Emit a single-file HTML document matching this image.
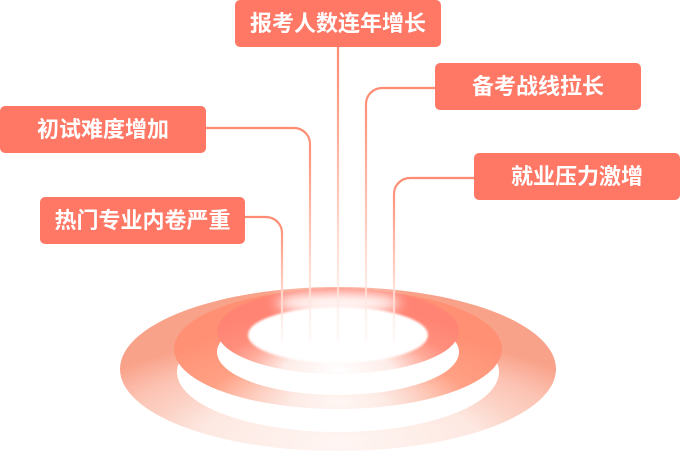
<!DOCTYPE html>
<html>
<head>
<meta charset="utf-8">
<style>
  html,body{margin:0;padding:0;background:#fff;}
  body{width:680px;height:452px;overflow:hidden;position:relative;}
  svg{position:absolute;left:0;top:0;}
  .box{position:absolute;height:47px;width:206px;background:#ff7866;border-radius:5px;
       color:#fff;font-family:"Liberation Sans","Noto Sans CJK SC",sans-serif;font-weight:bold;
       font-size:22px;line-height:47px;text-align:center;white-space:nowrap;}
</style>
</head>
<body>
<svg width="680" height="452" viewBox="0 0 680 452" xmlns="http://www.w3.org/2000/svg">
  <defs>
    <radialGradient id="gOuter" cx="0.5" cy="0.95" r="0.7" fx="0.5" fy="0.95">
      <stop offset="0" stop-color="#fff6f3"/>
      <stop offset="0.46" stop-color="#fde8e1"/>
      <stop offset="0.6" stop-color="#fcd4c8"/>
      <stop offset="0.77" stop-color="#fcc2b2"/>
      <stop offset="0.96" stop-color="#f9a28a"/>
      <stop offset="1" stop-color="#f9a28a"/>
    </radialGradient>
    <radialGradient id="gMid" cx="0.5" cy="0.95" r="0.7" fx="0.5" fy="0.95">
      <stop offset="0" stop-color="#fff7f4"/>
      <stop offset="0.2" stop-color="#fdebe5"/>
      <stop offset="0.36" stop-color="#fdd0c2"/>
      <stop offset="0.58" stop-color="#ffa084"/>
      <stop offset="0.95" stop-color="#ff9074"/>
      <stop offset="1" stop-color="#ff9074"/>
    </radialGradient>
    <radialGradient id="gInner" cx="0.5" cy="0.95" r="0.75" fx="0.5" fy="0.95">
      <stop offset="0" stop-color="#ffffff"/>
      <stop offset="0.3" stop-color="#fdece7"/>
      <stop offset="0.5" stop-color="#ffad9d"/>
      <stop offset="0.66" stop-color="#ff8e7c"/>
      <stop offset="0.93" stop-color="#ff8474"/>
      <stop offset="1" stop-color="#ff8474"/>
    </radialGradient>
    <filter id="blur6" x="-50%" y="-100%" width="200%" height="300%">
      <feGaussianBlur stdDeviation="6"/>
    </filter>
    <filter id="blur1" x="-10%" y="-20%" width="120%" height="140%">
      <feGaussianBlur stdDeviation="1"/>
    </filter>
    <linearGradient id="l0" gradientUnits="userSpaceOnUse" x1="0" y1="47" x2="0" y2="342">
      <stop offset="0" stop-color="#ff8b72"/>
      <stop offset="0.15" stop-color="#ff9a82"/>
      <stop offset="0.6" stop-color="#fdd6cb"/>
      <stop offset="1" stop-color="#fff3ef" stop-opacity="0.5"/>
    </linearGradient>
    <linearGradient id="l1" gradientUnits="userSpaceOnUse" x1="0" y1="88" x2="0" y2="342">
      <stop offset="0" stop-color="#ff8b72"/>
      <stop offset="0.15" stop-color="#ff9a82"/>
      <stop offset="0.6" stop-color="#fdd6cb"/>
      <stop offset="1" stop-color="#fff3ef" stop-opacity="0.5"/>
    </linearGradient>
    <linearGradient id="l2" gradientUnits="userSpaceOnUse" x1="0" y1="128" x2="0" y2="342">
      <stop offset="0" stop-color="#ff8b72"/>
      <stop offset="0.15" stop-color="#ff9a82"/>
      <stop offset="0.6" stop-color="#fdd6cb"/>
      <stop offset="1" stop-color="#fff3ef" stop-opacity="0.5"/>
    </linearGradient>
    <linearGradient id="l3" gradientUnits="userSpaceOnUse" x1="0" y1="178" x2="0" y2="342">
      <stop offset="0" stop-color="#ff8b72"/>
      <stop offset="0.15" stop-color="#ff9a82"/>
      <stop offset="0.6" stop-color="#fdd6cb"/>
      <stop offset="1" stop-color="#fff3ef" stop-opacity="0.5"/>
    </linearGradient>
    <linearGradient id="l4" gradientUnits="userSpaceOnUse" x1="0" y1="217" x2="0" y2="342">
      <stop offset="0" stop-color="#ff8b72"/>
      <stop offset="0.15" stop-color="#ff9a82"/>
      <stop offset="0.6" stop-color="#fdd6cb"/>
      <stop offset="1" stop-color="#fff3ef" stop-opacity="0.5"/>
    </linearGradient>
  </defs>

  <!-- outer disc -->
  <ellipse cx="338" cy="369" rx="218" ry="82" fill="url(#gOuter)"/>
  <!-- white side under middle disc -->
  <ellipse cx="338" cy="372" rx="161" ry="60" fill="#ffffff"/>
  <!-- middle disc -->
  <ellipse cx="338" cy="349" rx="164" ry="60" fill="url(#gMid)"/>
  <!-- white side under inner disc -->
  <ellipse cx="338" cy="352" rx="121" ry="43" fill="#ffffff"/>
  <!-- inner disc -->
  <ellipse cx="338" cy="331" rx="121" ry="43" fill="url(#gInner)"/>
  <!-- top glow -->
  <ellipse cx="338" cy="303" rx="62" ry="11" fill="#ffffff" opacity="0.95" filter="url(#blur6)"/>
  <!-- hole -->
  <ellipse cx="338" cy="335" rx="90" ry="28" fill="#ffffff" filter="url(#blur1)"/>

  <!-- connectors -->
  <g fill="none" stroke-width="2.2">
    <path d="M338,47 V342" stroke="url(#l0)"/>
    <path d="M435,88 H382 A16,16 0 0 0 366,104 V342" stroke="url(#l1)"/>
    <path d="M206,128 H294 A16,16 0 0 1 310,144 V342" stroke="url(#l2)"/>
    <path d="M474,178 H410 A16,16 0 0 0 394,194 V342" stroke="url(#l3)"/>
    <path d="M245,217 H266 A16,16 0 0 1 282,233 V342" stroke="url(#l4)"/>
  </g>
</svg>

<div class="box" style="left:235px;top:0px;">报考人数连年增长</div>
<div class="box" style="left:435px;top:63px;">备考战线拉长</div>
<div class="box" style="left:0px;top:106px;">初试难度增加</div>
<div class="box" style="left:474px;top:153px;">就业压力激增</div>
<div class="box" style="left:40px;top:197px;width:205px;">热门专业内卷严重</div>
</body>
</html>
